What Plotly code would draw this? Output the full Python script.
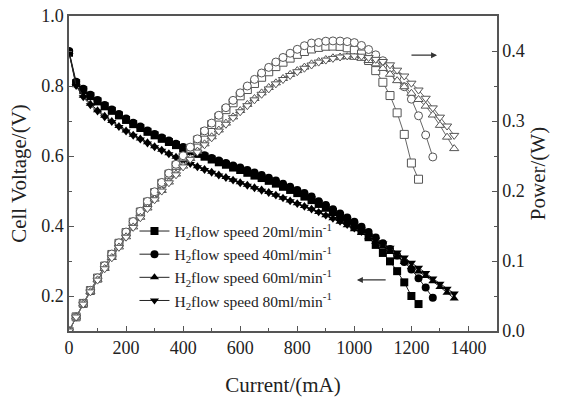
import plotly.graph_objects as go

# ---------------- data ----------------
CURRENT = [0, 25, 50, 75, 100, 125, 150, 175, 200, 225, 250, 275, 300, 325, 350, 375,
           400, 425, 450, 475, 500, 525, 550, 575, 600, 625, 650, 675, 700, 725, 750, 775,
           800, 825, 850, 875, 900, 925, 950, 975, 1000, 1025, 1050, 1075, 1100, 1125,
           1150, 1175, 1200, 1225, 1250, 1275, 1300, 1325, 1350]

V_20 = [0.895, 0.808, 0.788, 0.771, 0.756, 0.742, 0.729, 0.716, 0.703, 0.691, 0.680, 0.669,
        0.659, 0.649, 0.640, 0.631, 0.622, 0.614, 0.606, 0.598, 0.590, 0.582, 0.575, 0.567,
        0.560, 0.552, 0.544, 0.537, 0.529, 0.521, 0.512, 0.503, 0.494, 0.484, 0.474, 0.463,
        0.452, 0.440, 0.428, 0.415, 0.401, 0.386, 0.368, 0.346, 0.323, 0.299, 0.271, 0.239,
        0.200, 0.177]

V_40 = [0.900, 0.812, 0.792, 0.775, 0.760, 0.746, 0.733, 0.720, 0.707, 0.695, 0.684, 0.673,
        0.663, 0.653, 0.644, 0.635, 0.626, 0.618, 0.610, 0.602, 0.594, 0.587, 0.580, 0.573,
        0.567, 0.560, 0.553, 0.546, 0.538, 0.530, 0.521, 0.512, 0.503, 0.494, 0.484, 0.471,
        0.460, 0.448, 0.436, 0.424, 0.412, 0.398, 0.383, 0.367, 0.351, 0.334, 0.316, 0.297,
        0.276, 0.251, 0.224, 0.195]

V_60 = [0.898, 0.803, 0.772, 0.749, 0.731, 0.715, 0.700, 0.686, 0.673, 0.661, 0.650, 0.639,
        0.628, 0.618, 0.608, 0.598, 0.589, 0.580, 0.571, 0.563, 0.555, 0.547, 0.540, 0.532,
        0.525, 0.518, 0.511, 0.504, 0.497, 0.489, 0.481, 0.473, 0.465, 0.457, 0.449, 0.440,
        0.431, 0.422, 0.412, 0.402, 0.391, 0.380, 0.368, 0.355, 0.341, 0.326, 0.311, 0.297,
        0.283, 0.270, 0.257, 0.242, 0.226, 0.209, 0.193]

V_80 = [0.895, 0.800, 0.768, 0.745, 0.727, 0.711, 0.697, 0.683, 0.670, 0.658, 0.647, 0.636,
        0.625, 0.615, 0.605, 0.595, 0.586, 0.577, 0.568, 0.560, 0.552, 0.544, 0.537, 0.530,
        0.522, 0.515, 0.508, 0.501, 0.494, 0.487, 0.479, 0.471, 0.463, 0.455, 0.447, 0.439,
        0.430, 0.421, 0.412, 0.403, 0.393, 0.383, 0.372, 0.361, 0.350, 0.338, 0.324, 0.310,
        0.295, 0.281, 0.266, 0.250, 0.235, 0.221, 0.207]

LABELS = ["H<sub>2</sub>flow speed 20ml/min<sup>-1</sup>",
          "H<sub>2</sub>flow speed 40ml/min<sup>-1</sup>",
          "H<sub>2</sub>flow speed 60ml/min<sup>-1</sup>",
          "H<sub>2</sub>flow speed 80ml/min<sup>-1</sup>"]

SERIES = [V_20, V_40, V_60, V_80]
FILLED = ["square", "circle", "triangle-up", "triangle-down"]

FONT = "Liberation Serif"

fig = go.Figure()

for k, (volts, lab, sym) in enumerate(zip(SERIES, LABELS, FILLED)):
    cur = CURRENT[:len(volts)]
    fig.add_trace(go.Scatter(
        x=cur, y=volts, mode="lines+markers", name=lab, legendgroup=f"g{k}",
        line=dict(color="#222222", width=1),
        marker=dict(symbol=sym, size=8, color="black"),
    ))

for volts, sym in zip(SERIES, FILLED):
    cur = CURRENT[:len(volts)]
    power = [i * v / 1000.0 for i, v in zip(cur, volts)]
    fig.add_trace(go.Scatter(
        x=cur, y=power, mode="lines+markers", yaxis="y2", showlegend=False,
        line=dict(color="#666666", width=1),
        marker=dict(symbol=sym, size=8, color="white",
                    line=dict(color="#555555", width=1)),
    ))

axis_common = dict(
    showline=True, linecolor="#555555", linewidth=1.5,
    ticks="inside", ticklen=5, tickcolor="#555555", tickwidth=1.2,
    showgrid=False, zeroline=False, automargin=False, ticklabeloverflow="allow",
    tickfont=dict(family=FONT, size=18, color="#222222"),
)

TITLE_FONT = dict(family=FONT, size=21, color="#222222")

fig.update_layout(
    width=563, height=401,
    margin=dict(l=69, r=66, t=16, b=70),
    plot_bgcolor="white", paper_bgcolor="white",
    font=dict(family=FONT, color="#222222"),
    xaxis=dict(range=[0, 1500], dtick=200, tick0=0, mirror=True,
               minor=dict(dtick=100, ticks="inside", ticklen=3, tickcolor="#555555"),
               title=dict(text="Current/(mA)", font=TITLE_FONT, standoff=20),
               **axis_common),
    yaxis=dict(range=[0.1, 1.0], dtick=0.2, tick0=0.2, tickformat=".1f",
               minor=dict(dtick=0.1, ticks="inside", ticklen=3, tickcolor="#555555"),
               title=dict(text="Cell Voltage/(V)", font=TITLE_FONT, standoff=9),
               **axis_common),
    yaxis2=dict(range=[0, 0.45], dtick=0.1, tick0=0, tickformat=".1f", overlaying="y",
                side="right",
                minor=dict(dtick=0.05, ticks="inside", ticklen=3, tickcolor="#555555"),
                title=dict(text="Power/(W)", font=TITLE_FONT, standoff=6),
                **axis_common),
    legend=dict(x=0.153, y=0.37, xanchor="left", yanchor="top",
                bgcolor="rgba(0,0,0,0)", borderwidth=0,
                font=dict(family=FONT, size=15.5, color="#222222"),
                itemwidth=30, tracegroupgap=0),
    showlegend=True,
)

# arrows indicating which axis each group belongs to
fig.add_annotation(x=1290, y=0.394, xref="x", yref="y2", ax=1195, ay=0.394,
                   axref="x", ayref="y2", showarrow=True, arrowhead=2, arrowsize=1,
                   arrowwidth=1.2, arrowcolor="#333333", text="")
fig.add_annotation(x=1009, y=0.246, xref="x", yref="y", ax=1115, ay=0.246,
                   axref="x", ayref="y", showarrow=True, arrowhead=2, arrowsize=1,
                   arrowwidth=1.2, arrowcolor="#333333", text="")

# remove the default page margin so the figure sits at the window's top-left corner
fig.write_html("out.html", config={"displayModeBar": False},
               post_script="document.body.style.margin='0px';")
